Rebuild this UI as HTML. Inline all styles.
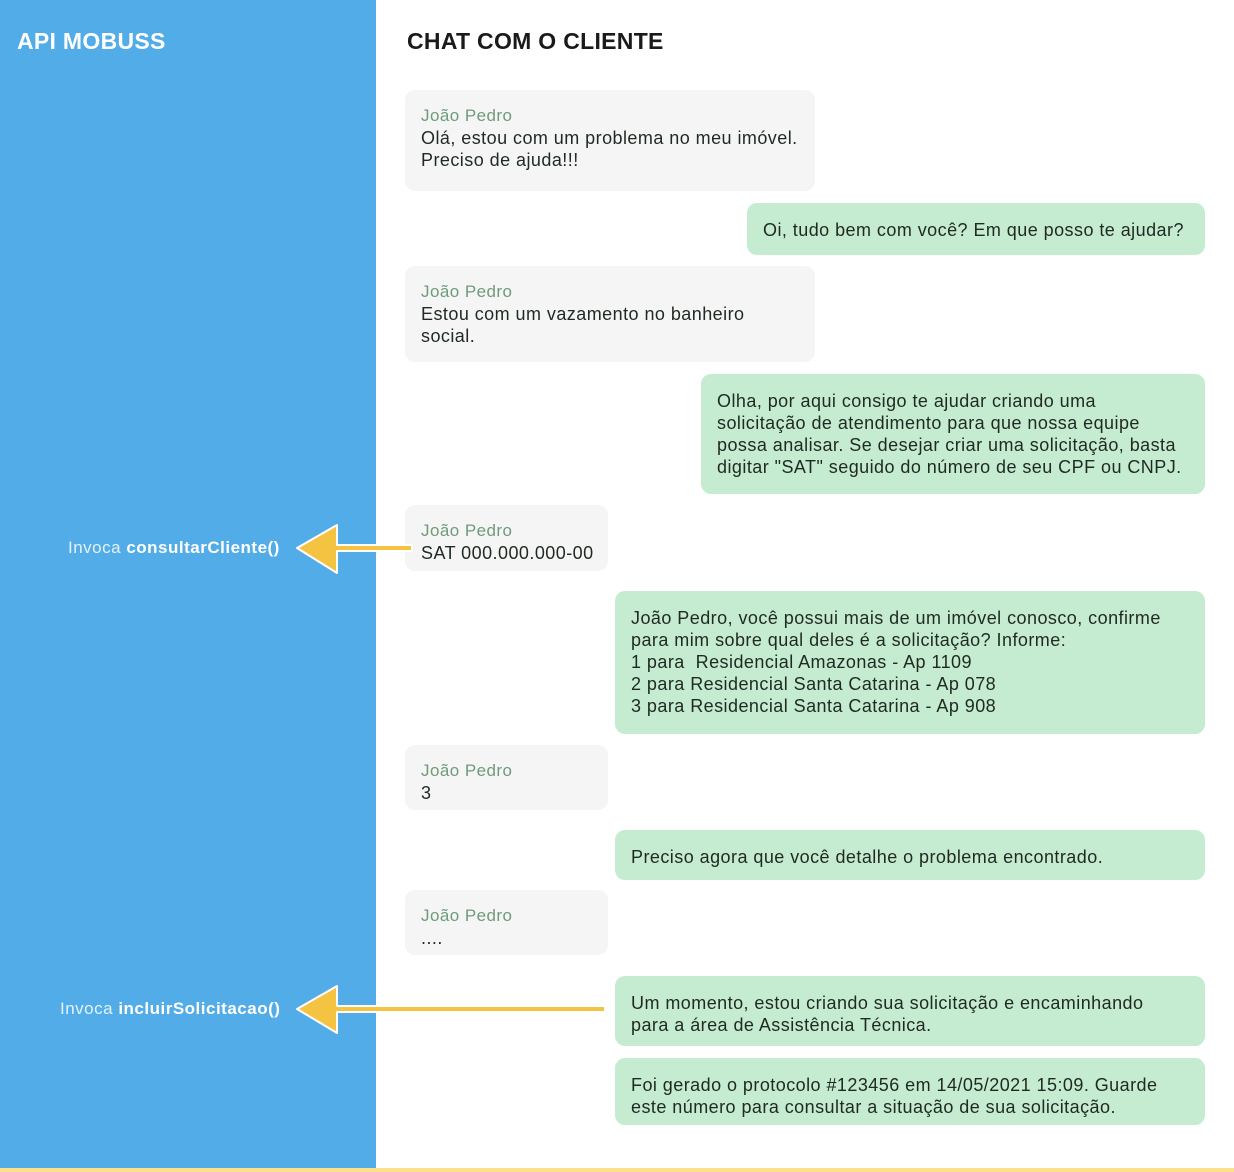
<!DOCTYPE html>
<html><head><meta charset="utf-8"><style>
body{margin:0;width:1234px;height:1172px;position:relative;background:#fff;font-family:"Liberation Sans",sans-serif;overflow:hidden}
.side{position:absolute;left:0;top:0;width:376px;height:1168px;background:#51ACE8}
.bottom{position:absolute;left:0;top:1168px;width:1234px;height:4px;background:#FCE08A}
.t1{position:absolute;left:17px;top:28px;color:#fff;font-size:23px;font-weight:bold;letter-spacing:0.3px}
.t2{position:absolute;left:407px;top:28px;color:#1a1a1a;font-size:23px;font-weight:bold;letter-spacing:0.3px}
.b{position:absolute;border-radius:10px;box-sizing:border-box;padding:15px 16px 0 16px;font-size:18px;line-height:22px;color:#1f2a22;letter-spacing:0.45px;white-space:nowrap}
.g{background:#F5F5F5}
.gr{background:#C5EBD1}
.n{color:#6E9C7A;font-size:17px}
.lab{position:absolute;color:#fff;font-size:17px;letter-spacing:0.5px}
</style></head><body>
<div class="side"></div><div class="bottom"></div>
<div class="t1">API MOBUSS</div>
<div class="t2">CHAT COM O CLIENTE</div>

<div class="b g" style="left:405px;top:90px;width:410px;height:101px"><div class="n">João Pedro</div>Olá, estou com um problema no meu imóvel.<br>Preciso de ajuda!!!</div>
<div class="b gr" style="left:747px;top:203px;width:458px;height:52px;padding-top:16px">Oi, tudo bem com você? Em que posso te ajudar?</div>
<div class="b g" style="left:405px;top:266px;width:410px;height:96px"><div class="n">João Pedro</div>Estou com um vazamento no banheiro<br>social.</div>
<div class="b gr" style="left:701px;top:374px;width:504px;height:120px;padding-top:16px">Olha, por aqui consigo te ajudar criando uma<br>solicitação de atendimento para que nossa equipe<br>possa analisar. Se desejar criar uma solicitação, basta<br>digitar "SAT" seguido do número de seu CPF ou CNPJ.</div>
<div class="b g" style="left:405px;top:505px;width:203px;height:66px"><div class="n">João Pedro</div>SAT 000.000.000-00</div>
<div class="b gr" style="left:615px;top:591px;width:590px;height:143px;padding-top:16px">João Pedro, você possui mais de um imóvel conosco, confirme<br>para mim sobre qual deles é a solicitação? Informe:<br>1 para &nbsp;Residencial Amazonas - Ap 1109<br>2 para Residencial Santa Catarina - Ap 078<br>3 para Residencial Santa Catarina - Ap 908</div>
<div class="b g" style="left:405px;top:745px;width:203px;height:65px"><div class="n">João Pedro</div>3</div>
<div class="b gr" style="left:615px;top:830px;width:590px;height:50px;padding-top:16px">Preciso agora que você detalhe o problema encontrado.</div>
<div class="b g" style="left:405px;top:890px;width:203px;height:65px"><div class="n">João Pedro</div>....</div>
<div class="b gr" style="left:615px;top:976px;width:590px;height:70px;padding-top:16px">Um momento, estou criando sua solicitação e encaminhando<br>para a área de Assistência Técnica.</div>
<div class="b gr" style="left:615px;top:1058px;width:590px;height:67px;padding-top:16px">Foi gerado o protocolo #123456 em 14/05/2021 15:09. Guarde<br>este número para consultar a situação de sua solicitação.</div>

<div class="lab" style="left:68px;top:538px"><span style="opacity:.85">Invoca</span> <b>consultarCliente()</b></div>
<div class="lab" style="left:60px;top:999px"><span style="opacity:.85">Invoca</span> <b>incluirSolicitacao()</b></div>

<svg style="position:absolute;left:0;top:0" width="1234" height="1172">
<g fill="#F5C342" stroke="#fff" stroke-width="2" stroke-linejoin="round">
<path d="M297 548 L337 525 L337 545 L412 545 L412 551 L337 551 L337 573 Z"/>
<path d="M297 1009 L337 986 L337 1006 L605 1006 L605 1012 L337 1012 L337 1033 Z"/>
</g>
</svg>
</body></html>
